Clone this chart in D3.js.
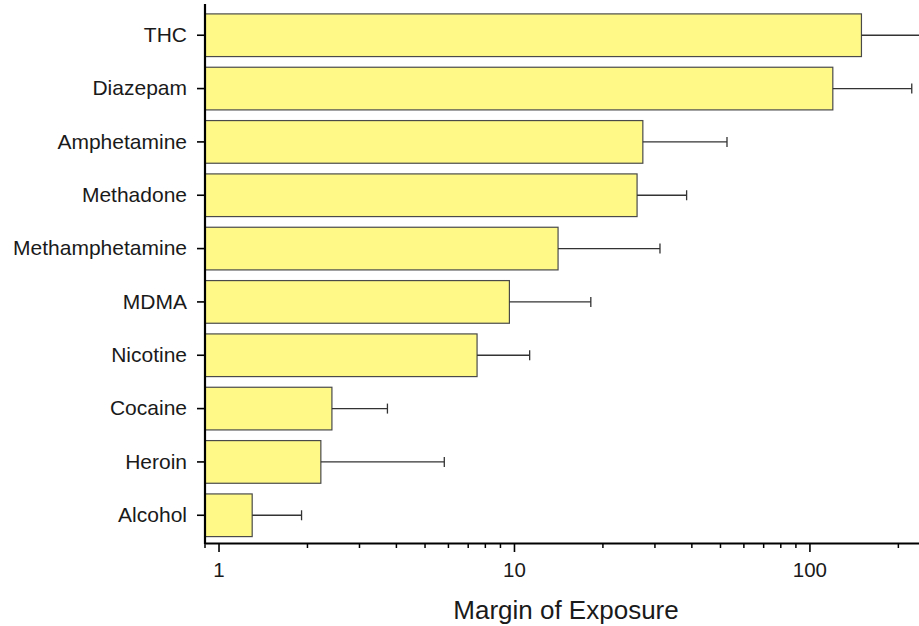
<!DOCTYPE html>
<html>
<head>
<meta charset="utf-8">
<script src="https://cdn.jsdelivr.net/npm/d3@7"></script>
<style>
  body { margin: 0; background: #fff; }
  svg { display: block; font-family: Arial, "Liberation Sans", sans-serif; }
</style>
</head>
<body>
<svg class="chart" width="919" height="626"></svg>
<script>
// drugs, margin of exposure (bar) and upper end of the error bar
var drugs = ['THC', 'Diazepam', 'Amphetamine', 'Methadone', 'Methamphetamine',
             'MDMA', 'Nicotine', 'Cocaine', 'Heroin', 'Alcohol'];
var moe = [150, 120, 27.3, 26.1, 14.1, 9.65, 7.5, 2.42, 2.22, 1.3];
var moeUpper = [290, 222, 52.6, 38.4, 31.2, 18.2, 11.3, 3.73, 5.81, 1.91];

var majorTicks = [1, 10, 100];
var majorLabels = ['1', '10', '100'];
var minorTicks = [0.9, 2, 3, 4, 5, 6, 7, 8, 9, 20, 30, 40, 50, 60, 70, 80, 90, 200];

var svg = d3.select('.chart');

var x = d3.scaleLog()
    .domain([0.9, 250])
    .range([205, 927]);

var y = d3.scaleBand()
    .domain(drugs)
    .range([7.5, 543])
    .paddingInner(0.2)
    .paddingOuter(0.12);

// bars
svg.selectAll('rect.bar')
    .data(drugs)
    .enter()
    .append('rect')
    .attr('class', 'bar')
    .attr('x', x(0.9))
    .attr('y', function(d){ return y(d); })
    .attr('width', function(d, i){ return x(moe[i]) - x(0.9); })
    .attr('height', y.bandwidth())
    .style('fill', '#fffa88')
    .style('stroke', '#4a4a4a')
    .style('stroke-width', 1.2);

// error bars (upper side only)
var err = svg.selectAll('g.err')
    .data(drugs)
    .enter()
    .append('g')
    .attr('class', 'err')
    .style('stroke', '#333')
    .style('stroke-width', 1.3);

err.append('line')
    .attr('x1', function(d, i){ return x(moe[i]); })
    .attr('x2', function(d, i){ return x(moeUpper[i]); })
    .attr('y1', function(d){ return y(d) + y.bandwidth() / 2; })
    .attr('y2', function(d){ return y(d) + y.bandwidth() / 2; });

err.append('line')
    .attr('x1', function(d, i){ return x(moeUpper[i]); })
    .attr('x2', function(d, i){ return x(moeUpper[i]); })
    .attr('y1', function(d){ return y(d) + y.bandwidth() / 2 - 5; })
    .attr('y2', function(d){ return y(d) + y.bandwidth() / 2 + 5; });

// x axis: major ticks with labels, minor ticks shorter
var xAxis = svg.append('g')
    .attr('transform', 'translate(0,543)')
    .call(d3.axisBottom(x)
        .tickValues(majorTicks)
        .tickFormat(function(d, i){ return majorLabels[i]; })
        .tickSize(9)
        .tickPadding(10)
        .tickSizeOuter(0));

xAxis.selectAll('.minor')
    .data(minorTicks)
    .enter()
    .append('line')
    .attr('class', 'minor')
    .attr('x1', function(d){ return x(d); })
    .attr('x2', function(d){ return x(d); })
    .attr('y1', 0)
    .attr('y2', 5)
    .style('stroke', '#000')
    .style('stroke-width', 1.5);

xAxis.select('.domain').style('stroke-width', 2.2);
xAxis.selectAll('.tick line').style('stroke-width', 1.6);
xAxis.selectAll('.tick text')
    .style('font-size', '20.5px')
    .style('fill', '#1a1a1a');

// y axis
var yAxis = svg.append('g')
    .attr('transform', 'translate(205,0)')
    .call(d3.axisLeft(y)
        .tickSize(8)
        .tickPadding(10)
        .tickSizeOuter(0));

yAxis.select('.domain')
    .attr('d', 'M0,4V544')
    .style('stroke-width', 2.2);
yAxis.selectAll('.tick line').style('stroke-width', 1.6);
yAxis.selectAll('.tick text')
    .style('font-size', '21px')
    .style('fill', '#1a1a1a');

// axis title
svg.append('text')
    .attr('x', 566)
    .attr('y', 619)
    .attr('text-anchor', 'middle')
    .style('font-size', '26px')
    .style('fill', '#1a1a1a')
    .text('Margin of Exposure');
</script>
</body>
</html>
